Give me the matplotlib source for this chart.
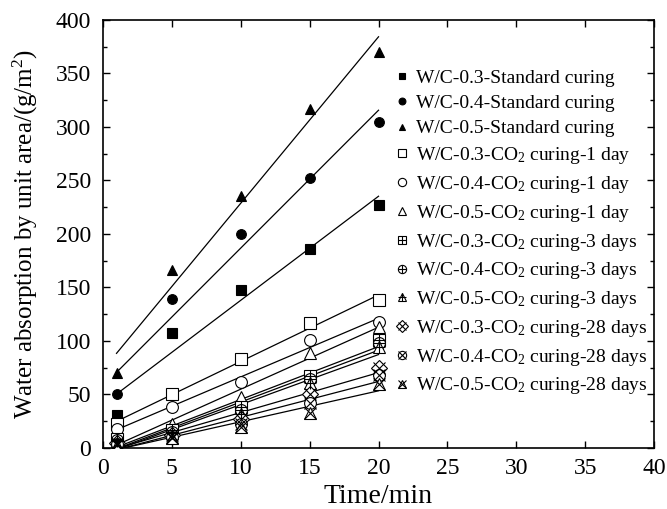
import numpy as np
import matplotlib
matplotlib.use("Agg")
import matplotlib.pyplot as plt
from matplotlib.legend_handler import HandlerTuple
from matplotlib.ticker import MultipleLocator

plt.rcParams["font.family"] = ["Liberation Serif", "DejaVu Serif"]
plt.rcParams["mathtext.fontset"] = "custom"
plt.rcParams["mathtext.rm"] = "Liberation Serif"
plt.rcParams["mathtext.it"] = "Liberation Serif:italic"

time_min = [1, 5, 10, 15, 20]

std_03 = [31, 107, 148, 186, 227]
std_04 = [50, 139, 200, 252, 305]
std_05 = [70, 166, 235, 317, 370]
co2_1d_03 = [22, 50, 83, 117, 138]
co2_1d_04 = [18, 38, 62, 101, 118]
co2_1d_05 = [8, 22, 48, 89, 113]
co2_3d_03 = [8, 17, 38, 67, 101]
co2_3d_04 = [7, 15, 35, 64, 98]
co2_3d_05 = [6, 14, 32, 61, 94]
co2_28d_03 = [5, 12, 27, 50, 75]
co2_28d_04 = [4, 10, 22, 42, 68]
co2_28d_05 = [3, 9, 20, 33, 60]

labels = [
    "W/C-0.3-Standard curing",
    "W/C-0.4-Standard curing",
    "W/C-0.5-Standard curing",
    "W/C-0.3-CO$_2$ curing-1 day",
    "W/C-0.4-CO$_2$ curing-1 day",
    "W/C-0.5-CO$_2$ curing-1 day",
    "W/C-0.3-CO$_2$ curing-3 days",
    "W/C-0.4-CO$_2$ curing-3 days",
    "W/C-0.5-CO$_2$ curing-3 days",
    "W/C-0.3-CO$_2$ curing-28 days",
    "W/C-0.4-CO$_2$ curing-28 days",
    "W/C-0.5-CO$_2$ curing-28 days",
]
series = [std_03, std_04, std_05, co2_1d_03, co2_1d_04, co2_1d_05,
          co2_3d_03, co2_3d_04, co2_3d_05, co2_28d_03, co2_28d_04, co2_28d_05]

# (base marker, filled?, overlay marker)
styles = [
    ("s", True, None), ("o", True, None), ("^", True, None),
    ("s", False, None), ("o", False, None), ("^", False, None),
    ("s", False, "+"), ("o", False, "+"), ("^", False, "+"),
    ("D", False, "x"), ("o", False, "x"), ("^", False, "x"),
]

fig = plt.figure(figsize=(6.67, 5.09), dpi=100)
ax = fig.add_axes([0.154, 0.120, 0.827, 0.841])

x = np.array(time_min, dtype=float)
handles = []
for y, (m, filled, over) in zip(series, styles):
    y = np.array(y, dtype=float)
    k, b = np.polyfit(x, y, 1)
    ax.plot([x[0], x[-1]], [k * x[0] + b, k * x[-1] + b], color="black", lw=0.9, zorder=1)
    ms = 7 if filled else 8.5
    h = ax.plot(x, y, ls="none", marker=m, ms=ms, mec="black", mew=0.8,
                mfc="black" if filled else "white", zorder=3)[0]
    if over:
        h2 = ax.plot(x, y, ls="none", marker=over, ms=ms, mec="black", mew=0.8, zorder=4)[0]
        handles.append((h, h2))
    else:
        handles.append(h)

ax.set_xlim(0, 40)
ax.set_ylim(0, 400)
ax.xaxis.set_major_locator(MultipleLocator(5))
ax.yaxis.set_major_locator(MultipleLocator(50))
ax.yaxis.set_minor_locator(MultipleLocator(25))
ax.tick_params(which="both", direction="in", top=True, right=True, labelsize=17)
ax.tick_params(which="major", length=5, width=1)
ax.tick_params(which="minor", length=3, width=1)
ax.tick_params(axis="x", pad=7)
ax.tick_params(axis="y", pad=8.5)
for s in ax.spines.values():
    s.set_linewidth(1.2)

ax.set_xlabel("Time/min", fontsize=20, labelpad=4)
ax.set_ylabel("Water absorption by unit area/(g/m$^2$)", fontsize=18, labelpad=11)

ax.legend(handles, labels, loc="upper left", bbox_to_anchor=(0.532, 0.885), frameon=False,
          fontsize=14, markerscale=0.7, handlelength=0.6, handletextpad=0.4,
          labelspacing=0.4, borderaxespad=0, borderpad=0,
          handler_map={tuple: HandlerTuple(ndivide=1)})

fig.savefig("out.png", dpi=100)
